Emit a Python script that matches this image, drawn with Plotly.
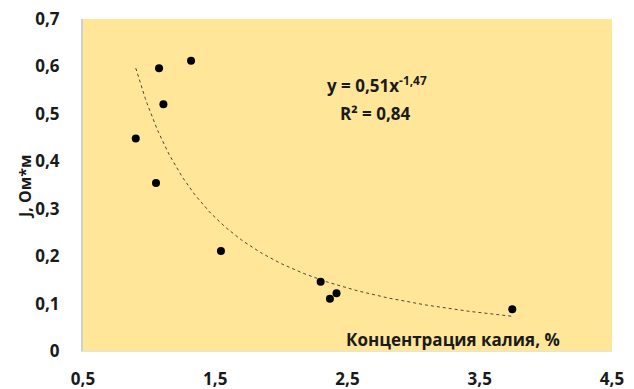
import numpy as np
import plotly.graph_objects as go

# Data
potassium = [0.899, 1.075, 1.317, 1.108, 1.052, 1.543, 2.297, 2.367, 2.417, 3.746]
resistivity = [0.448, 0.596, 0.612, 0.520, 0.354, 0.211, 0.146, 0.110, 0.122, 0.088]

# Power trendline coefficients shown on the chart: y = a * x^b
trend_a = 0.51
trend_b = -1.47

x_ticks = [0.5, 1.5, 2.5, 3.5, 4.5]
x_ticklabels = ["0,5", "1,5", "2,5", "3,5", "4,5"]
y_ticks = [0, 0.1, 0.2, 0.3, 0.4, 0.5, 0.6, 0.7]
y_ticklabels = ["0", "0,1", "0,2", "0,3", "0,4", "0,5", "0,6", "0,7"]

x_title = "Концентрация калия, %"
y_title = "J, Ом*м"
eq_text = "y = 0,51x<sup>-1,47</sup>"
r2_text = "R² = 0,84"

font_family = "Open Sans"
txt_color = "#1a1a1a"

# page body has an 8px default margin; compensate so the plot sits where the reference has it
OFF = 8
PLOT_L, PLOT_R, PLOT_T, PLOT_B = 83, 612, 19, 351  # page pixels
W, H = 634 - OFF, 389 - OFF

tx = np.linspace(min(potassium), max(potassium), 200)
ty = trend_a * tx ** trend_b

px_per_x = (PLOT_R - PLOT_L) / 4.0
px_per_y = (PLOT_B - PLOT_T) / 0.7


def data_x(px):
    return 0.5 + (px - PLOT_L) / px_per_x


def data_y(py):
    return (PLOT_B - py) / px_per_y


fig = go.Figure()
fig.add_trace(go.Scatter(
    x=tx, y=ty, mode="lines",
    line=dict(color="#4d463a", width=1, dash="dot"),
    hoverinfo="skip", showlegend=False,
))
fig.add_trace(go.Scatter(
    x=potassium, y=resistivity, mode="markers",
    marker=dict(color="black", size=8),
    showlegend=False,
))

fig.update_layout(
    width=W, height=H,
    margin=dict(l=PLOT_L - OFF, r=634 - PLOT_R, t=PLOT_T - OFF, b=389 - PLOT_B, autoexpand=False),
    paper_bgcolor="white",
    plot_bgcolor="#FFE699",
    font=dict(family=font_family, color=txt_color, size=14),
    showlegend=False,
    annotations=[
        dict(text="<b>" + x_title + "</b>", x=data_x(453), y=data_y(339),
             xref="x", yref="y", showarrow=False,
             font=dict(size=17, family=font_family, color=txt_color),
             xanchor="center", yanchor="middle"),
        dict(text="<b>" + eq_text + "</b>", x=data_x(377), y=data_y(84),
             xref="x", yref="y", showarrow=False,
             font=dict(size=17, family=font_family, color=txt_color),
             xanchor="center", yanchor="middle"),
        dict(text="<b>" + r2_text + "</b>", x=data_x(375), y=data_y(113),
             xref="x", yref="y", showarrow=False,
             font=dict(size=17, family=font_family, color=txt_color),
             xanchor="center", yanchor="middle"),
        dict(text="<b>" + y_title + "</b>",
             x=(25 - PLOT_L) / (PLOT_R - PLOT_L), y=(PLOT_B - 187) / (PLOT_B - PLOT_T),
             xref="paper", yref="paper", showarrow=False, textangle=-90,
             font=dict(size=16, family=font_family, color=txt_color),
             xanchor="center", yanchor="middle"),
    ],
)

fig.update_xaxes(
    range=[0.5, 4.5],
    tickvals=x_ticks, ticktext=x_ticklabels,
    tickfont=dict(size=17, family=font_family, color=txt_color, weight="bold"),
    showgrid=False, zeroline=False,
    showline=True, linecolor="#e3e3e3", linewidth=1,
    ticks="outside", ticklen=13, tickcolor="rgba(0,0,0,0)",
    ticklabeloverflow="allow",
    automargin=False,
)
fig.update_yaxes(
    range=[0, 0.7],
    tickvals=y_ticks, ticktext=y_ticklabels,
    tickfont=dict(size=17, family=font_family, color=txt_color, weight="bold"),
    showgrid=False, zeroline=False,
    showline=True, linecolor="#d0d0d0", linewidth=2,
    ticks="outside", ticklen=18, tickcolor="rgba(0,0,0,0)",
    ticklabeloverflow="allow",
    automargin=False,
)

fig.write_html("out.html")
